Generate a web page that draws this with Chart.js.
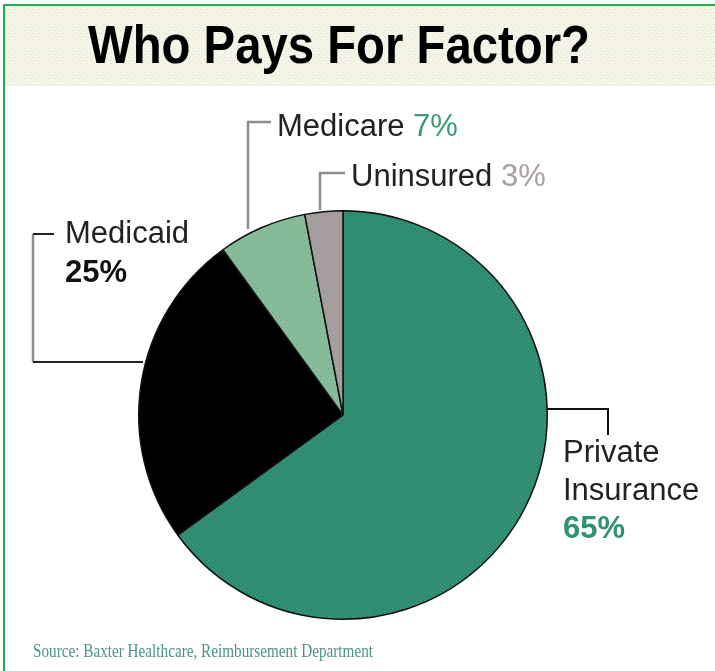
<!DOCTYPE html>
<html lang="en">
<head>
    <meta charset="UTF-8">
    <title>Who Pays For Factor?</title>
    <script src="https://cdn.jsdelivr.net/npm/chart.js"></script>
    <style>
        body { margin: 0; background: #ffffff; }
        #wrap { width: 715px; height: 671px; }
    </style>
</head>
<body>
    <div id="wrap"><canvas id="Factor_Chart" width="715" height="671"></canvas></div>
<script>
    // data (clockwise from 12 o'clock)
    var categorias = ['Private Insurance', 'Medicaid', 'Medicare', 'Uninsured'];
    var valores = [65, 25, 7, 3];
    var titulo = 'Who Pays For Factor?';
    var fonte = 'Source: Baxter Healthcare, Reimbursement Department';

    function fazerPadrao(base, ponto, passo) {
        var c = document.createElement('canvas');
        c.width = passo; c.height = passo;
        var g = c.getContext('2d');
        g.fillStyle = base;
        g.fillRect(0, 0, passo, passo);
        g.fillStyle = ponto;
        g.fillRect(0, 0, 1, 1);
        g.fillRect(passo / 2, passo / 2, 1, 1);
        return g.createPattern(c, 'repeat');
    }

    var ctx = document.getElementById('Factor_Chart');

    var corPrivado = fazerPadrao('#2b8b71', '#4fa086', 4);
    var corMedicaid = '#000000';
    var corMedicare = fazerPadrao('#86ba98', '#6ea985', 8);
    var corSemSeguro = fazerPadrao('#a39b9b', '#b8b0b0', 4);

    function linha(c, pts, cor, w) {
        c.save();
        c.strokeStyle = cor;
        c.lineWidth = w;
        c.beginPath();
        c.moveTo(pts[0][0], pts[0][1]);
        for (var i = 1; i < pts.length; i++) c.lineTo(pts[i][0], pts[i][1]);
        c.stroke();
        c.restore();
    }

    function texto(c, partes, x, y) {
        // partes: [[texto, cor, negrito], ...] drawn one after the other
        var px = x;
        for (var i = 0; i < partes.length; i++) {
            c.font = (partes[i][2] ? 'bold ' : '') + '31px "Liberation Sans", Arial, sans-serif';
            c.fillStyle = partes[i][1];
            c.fillText(partes[i][0], px, y);
            px += c.measureText(partes[i][0]).width;
        }
    }

    var fundoPlugin = {
        id: 'fundo',
        beforeDraw: function (chart) {
            var c = chart.ctx;
            c.save();
            // title band
            c.fillStyle = fazerPadrao('#f5f4e6', '#cfe6d6', 6);
            c.fillRect(5, 6, 710, 80);
            // green frame
            linha(c, [[4, 671], [4, 5], [715, 5]], '#1fae55', 2);
            // title (condensed bold)
            c.font = 'bold 53px "Liberation Sans", Arial, sans-serif';
            var w = c.measureText(titulo).width;
            c.translate(88, 63);
            c.scale(502 / w, 1);
            c.fillStyle = '#000000';
            c.textBaseline = 'alphabetic';
            c.fillText(titulo, 0, 0);
            c.restore();
        },
        afterDraw: function (chart) {
            var c = chart.ctx;
            c.save();
            c.textBaseline = 'alphabetic';

            // leader lines
            linha(c, [[248, 229], [248, 122], [271, 122]], '#8d8d8d', 2.5);
            linha(c, [[320, 210], [320, 173], [345, 173]], '#8d8d8d', 2.5);
            linha(c, [[33, 234], [33, 362]], '#8d8d8d', 2.5);
            linha(c, [[33, 234], [54, 234]], '#222222', 2);
            linha(c, [[33, 362], [143, 362]], '#222222', 2);
            linha(c, [[547, 409], [608, 409], [608, 435]], '#111111', 2);

            // labels
            texto(c, [['Medicare ', '#222222', false], [valores[2] + '%', '#3c9a74', false]], 277, 136);
            texto(c, [['Uninsured ', '#222222', false], [valores[3] + '%', '#a8a0a0', false]], 351, 186);
            texto(c, [['Medicaid', '#222222', false]], 65, 243);
            texto(c, [[valores[1] + '%', '#111111', true]], 65, 282);
            texto(c, [['Private', '#222222', false]], 563, 462);
            texto(c, [['Insurance', '#222222', false]], 563, 500);
            texto(c, [[valores[0] + '%', '#2f9272', true]], 563, 538);

            // source line
            c.font = '18px "Liberation Serif", "Times New Roman", serif';
            var w = c.measureText(fonte).width;
            c.translate(33, 657);
            c.scale(340 / w, 1);
            c.fillStyle = '#4a9488';
            c.fillText(fonte, 0, 0);
            c.restore();
        }
    };

    new Chart(ctx, {
        type: 'pie',
        data: {
            labels: categorias,
            datasets: [{
                data: valores,
                backgroundColor: [corPrivado, corMedicaid, corMedicare, corSemSeguro],
                borderColor: '#111111',
                borderWidth: 1.5
            }]
        },
        options: {
            responsive: false,
            animation: false,
            layout: {
                padding: { left: 138, right: 167, top: 210, bottom: 51 }
            },
            plugins: {
                legend: { display: false },
                title: { display: false },
                tooltip: { enabled: false }
            }
        },
        plugins: [fundoPlugin]
    });
</script>
</body>
</html>
